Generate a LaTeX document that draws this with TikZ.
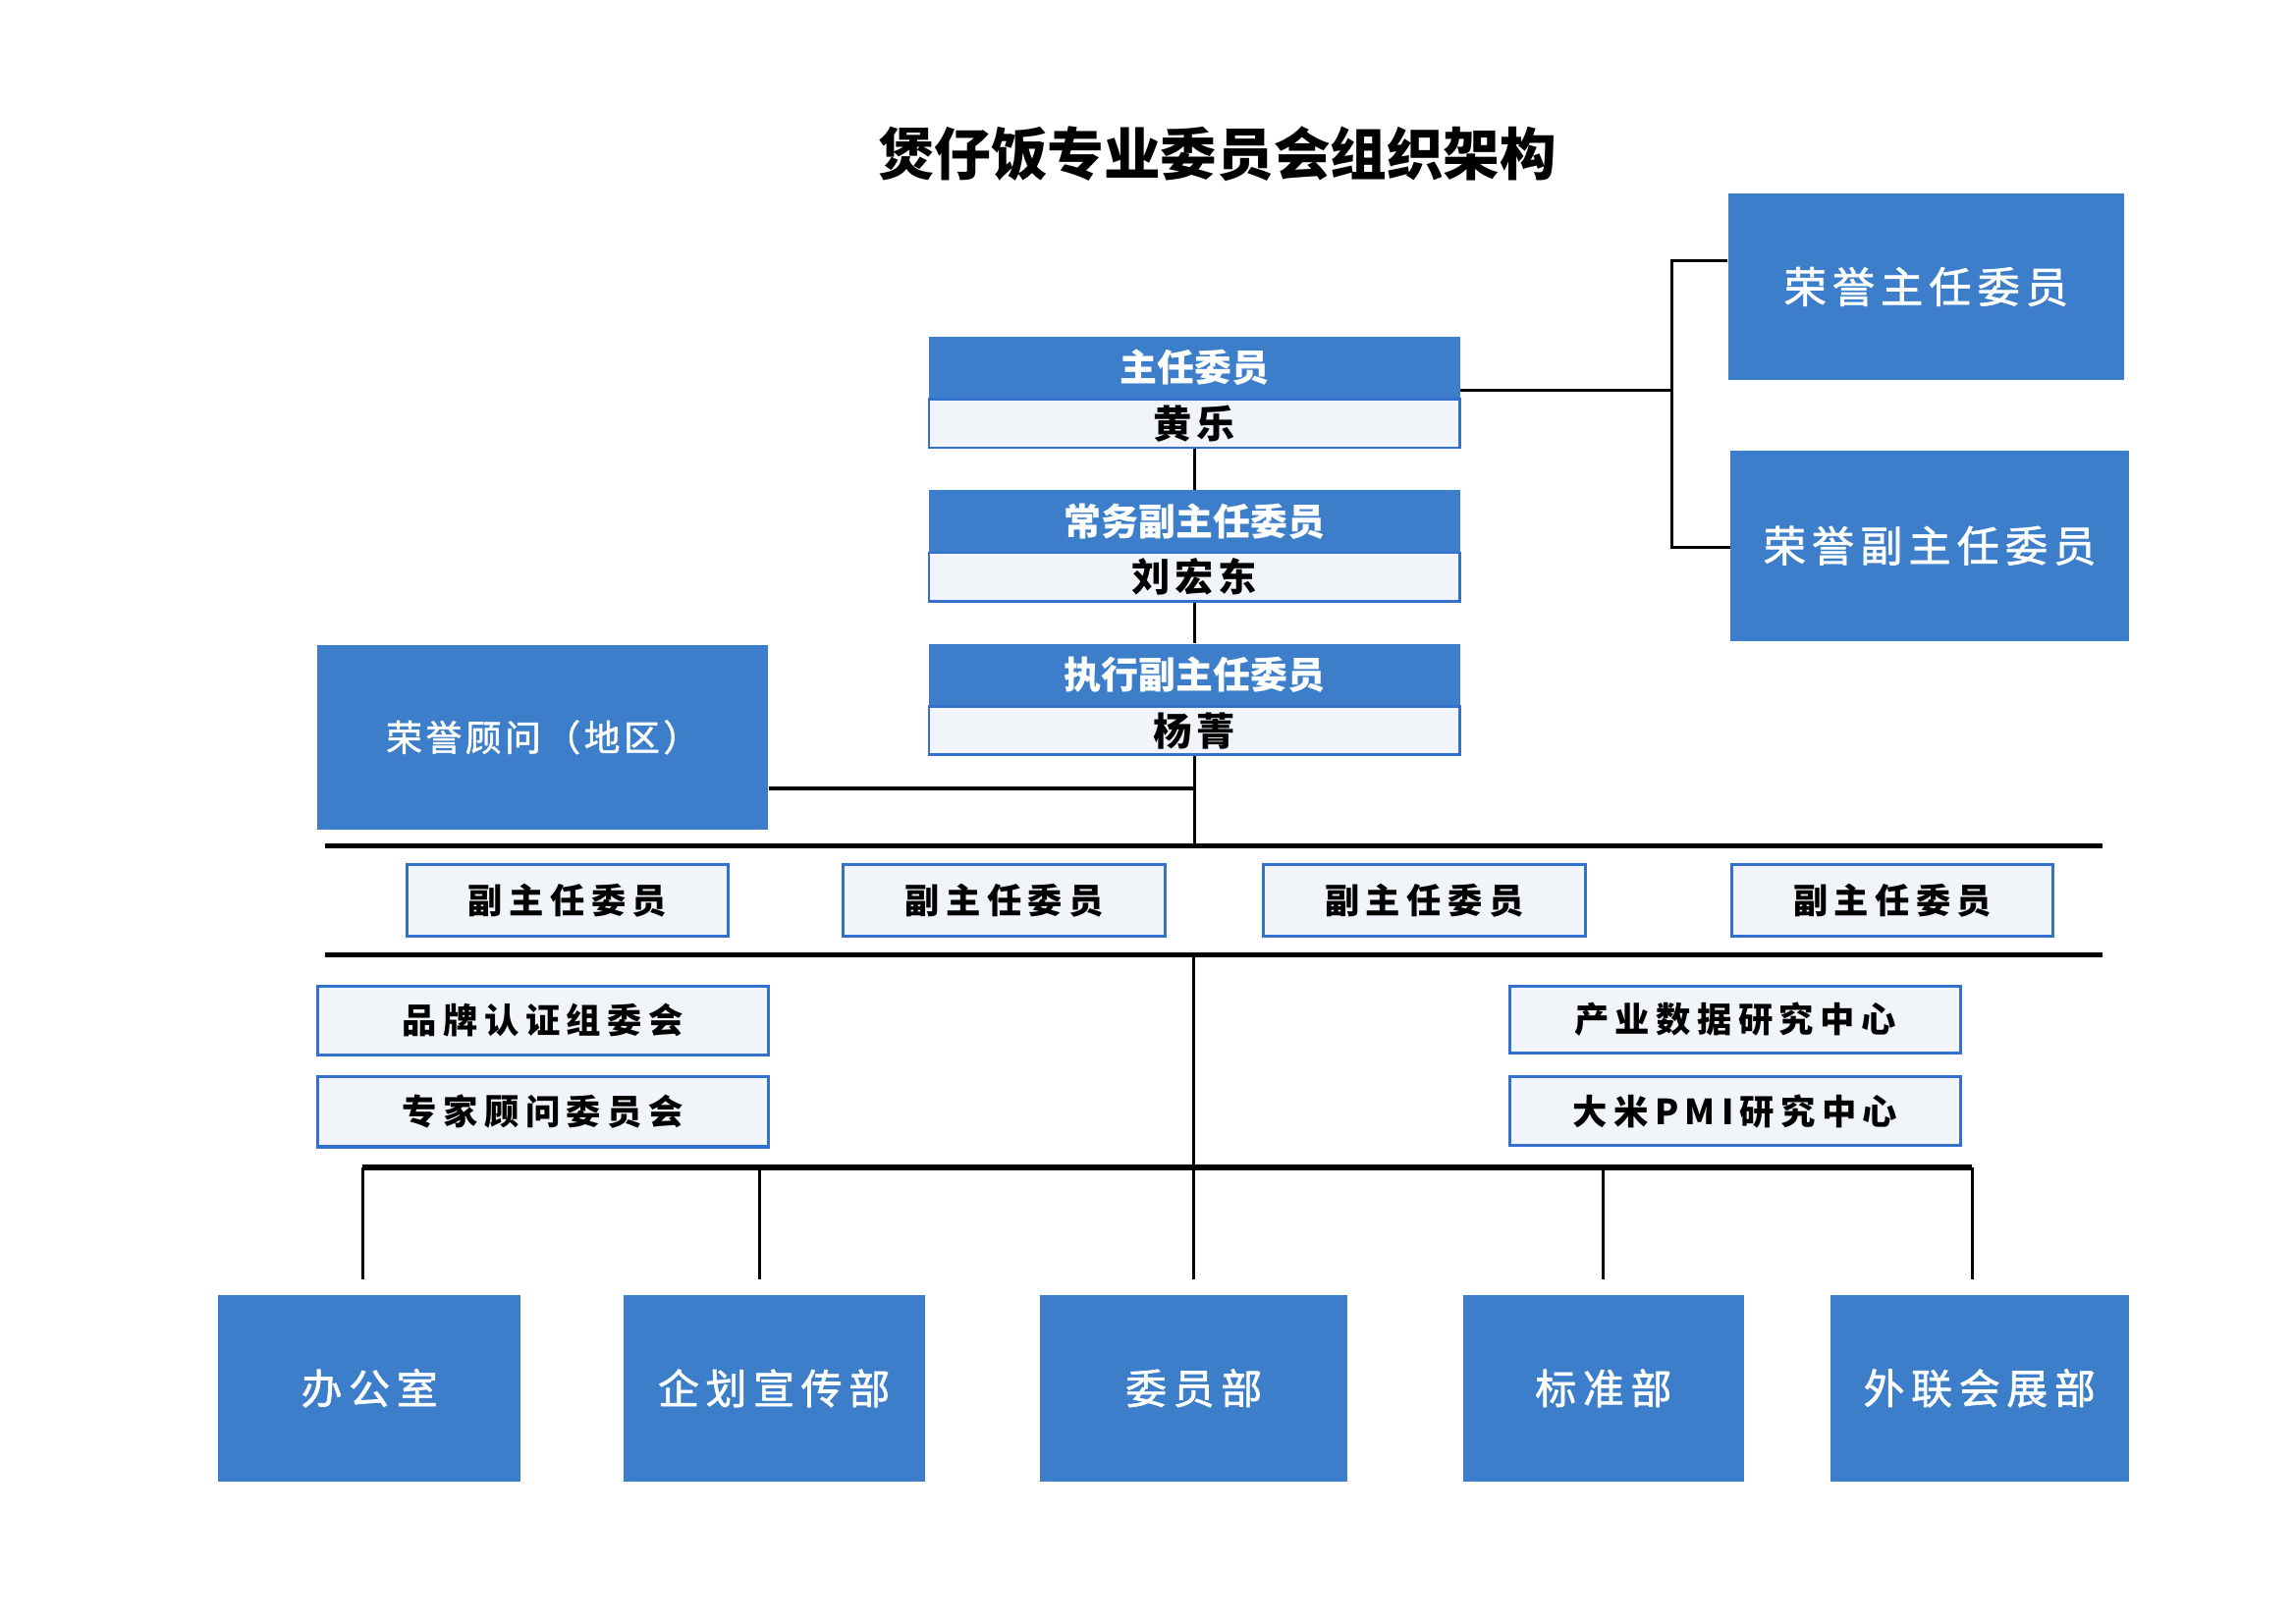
\documentclass[tikz,border=0pt]{standalone}
\usepackage{fontspec}
\setmainfont{Noto Sans CJK SC}
\definecolor{boxblue}{RGB}{60,126,202}
\definecolor{edgeblue}{RGB}{52,112,205}
\definecolor{paleblue}{RGB}{241,244,249}
\begin{document}
\begin{tikzpicture}[x=0.02cm,y=-0.02cm,
		conn/.style={line width=1.2pt},
		barline/.style={line width=2pt},
		headbox/.style={fill=boxblue,text=white,inner sep=0pt,minimum width=7.26cm,minimum height=0.86cm,font=\bfseries\fontsize{14.5}{17}\selectfont},
		namestrip/.style={fill=paleblue,draw=edgeblue,line width=1pt,inner sep=0pt,minimum width=7.26cm,minimum height=0.66cm,font=\bfseries\fontsize{15}{18}\selectfont\addfontfeatures{LetterSpace=12}},
		bigbox/.style={fill=boxblue,text=white,inner sep=0pt,font=\fontsize{16.5}{19}\selectfont\addfontfeatures{LetterSpace=14,FakeBold=1.5}},
		subbox/.style={fill=paleblue,draw=edgeblue,line width=1.2pt,inner sep=0pt,font=\bfseries\fontsize{13.5}{16}\selectfont\addfontfeatures{LetterSpace=18}},
		deptbox/.style={fill=boxblue,text=white,inner sep=0pt,minimum height=2.56cm,font=\fontsize{16}{19}\selectfont\addfontfeatures{LetterSpace=16,FakeBold=1.5}}]
	\useasboundingbox (0,0) rectangle (1568,1110);
	\node[font=\bfseries\fontsize{22}{26}\selectfont] (title) at (832,105) {煲仔饭专业委员会组织架构};
	\node[headbox] (zr) at (816.5,251.5) {主任委员};
	\node[namestrip] (zrn) at (816.5,289.5) {黄乐};
	\node[headbox] (cw) at (816.5,356.5) {常务副主任委员};
	\node[namestrip] (cwn) at (816.5,394.5) {刘宏东};
	\node[headbox] (zx) at (816.5,461.5) {执行副主任委员};
	\node[namestrip] (zxn) at (816.5,499.5) {杨菁};
	\node[bigbox,minimum width=5.42cm,minimum height=2.56cm] (ry1) at (1316.5,196) {荣誉主任委员};
	\node[bigbox,minimum width=5.44cm,minimum height=2.6cm] (ry2) at (1319,373) {荣誉副主任委员};
	\node[bigbox,minimum width=6.16cm,minimum height=2.52cm,font=\fontsize{14}{17}\selectfont\addfontfeatures{LetterSpace=10,FakeBold=1.5}] (gw) at (371,504) {荣誉顾问（地区）};
	\foreach \i/\x in {1/388,2/686.5,3/973.5,4/1293.5}
		\node[subbox,minimum width=4.4cm,minimum height=0.98cm] (fz\i) at (\x,615.5) {副主任委员};
	\node[subbox,minimum width=6.16cm,minimum height=0.94cm] (gp) at (371,697.5) {品牌认证组委会};
	\node[subbox,minimum width=6.16cm,minimum height=0.96cm] (zj) at (371,760) {专家顾问委员会};
	\node[subbox,minimum width=6.16cm,minimum height=0.92cm] (cy) at (1186,697) {产业数据研究中心};
	\node[subbox,minimum width=6.16cm,minimum height=0.94cm] (dm) at (1186,759.5) {大米PMI研究中心};
	\node[deptbox,minimum width=4.14cm] (bgs) at (252.5,949) {办公室};
	\node[deptbox,minimum width=4.12cm] (qh) at (529,949) {企划宣传部};
	\node[deptbox,minimum width=4.2cm] (wy) at (816,949) {委员部};
	\node[deptbox,minimum width=3.84cm] (bz) at (1096,949) {标准部};
	\node[deptbox,minimum width=4.08cm] (wl) at (1353,949) {外联会展部};
	\coordinate (br) at (1143,267);
	\coordinate (bt) at (1143,178);
	\coordinate (bb) at (1143,374);
	\coordinate (j0) at (816.5,539);
	\coordinate (j1) at (816.5,578);
	\coordinate (b1l) at (222,578);
	\coordinate (b1r) at (1437,578);
	\coordinate (b2l) at (222,653);
	\coordinate (b2r) at (1437,653);
	\coordinate (b3l) at (248,798);
	\coordinate (b3r) at (1348,798);
	\draw[conn] (zrn.south) -- (cw.north);
	\draw[conn] (cwn.south) -- (zx.north);
	\draw[conn] (zxn.south) -- (j1);
	\draw[conn] (gw.east |- j0) -- (j0);
	\draw[conn] (zr.east |- br) -- (br);
	\draw[conn] (ry1.west |- bt) -- (bt) -- (bb) -- (ry2.west |- bb);
	\draw[barline] (b1l) -- (b1r);
	\draw[barline] (b2l) -- (b2r);
	\draw[barline] (b3l) -- (b3r);
	\draw[conn,shorten >=0.2cm] (b2l -| wy.north) -- (wy.north);
	\foreach \n/\x in {bgs/248,qh/519,bz/1096,wl/1348}
		\draw[conn,shorten >=0.2cm] (b3l -| \x,0) -- (\n.north -| \x,0);
\end{tikzpicture}
\end{document}
